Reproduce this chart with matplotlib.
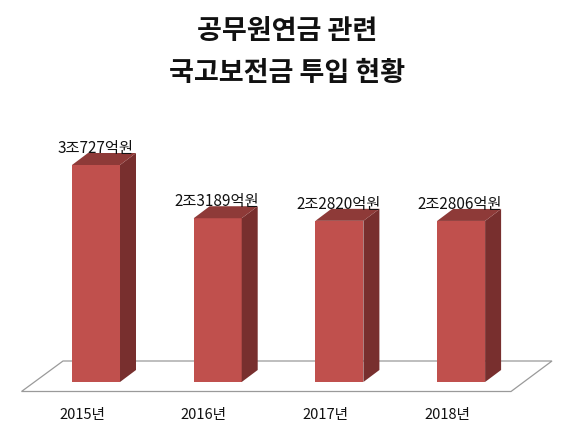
import matplotlib
matplotlib.use("Agg")
import matplotlib.pyplot as plt
from matplotlib.patches import Polygon

plt.rcParams['font.family'] = ['Noto Sans CJK KR', 'DejaVu Sans']

# ---- data ----
years = ["2015년", "2016년", "2017년", "2018년"]
values = [30727, 23189, 22820, 22806]          # 억원
value_labels = ["3조727억원", "2조3189억원", "2조2820억원", "2조2806억원"]
title_lines = ["공무원연금 관련", "국고보전금 투입 현황"]

# ---- geometry (pixels) ----
W, H = 571, 431
fig = plt.figure(figsize=(W / 100, H / 100), dpi=100)
ax = fig.add_axes([0, 0, 1, 1])
ax.set_axis_off()

base_px = 383.0          # pixel row (from top) of value 0
top_px_max = 166.0       # pixel row of front top for the first bar
scale = (base_px - top_px_max) / values[0]   # px per unit
x0_px, step_px = 96.0, 121.7                # front-face center of first bar, spacing

ax.set_xlim(-x0_px / step_px, (W - x0_px) / step_px)
ax.set_ylim(-(H - base_px) / scale, base_px / scale)

ux = 1.0 / step_px       # x units per pixel
uy = 1.0 / scale         # y units per pixel

def P(xpx, ypx_from_top):
    """pixel -> data (for decoration only)"""
    return ((xpx - x0_px) * ux, (base_px - ypx_from_top) * uy)

# floor
floor = Polygon([P(63, 362), P(552, 362), P(511, 392.5), P(21.5, 392.5)],
                closed=True, facecolor='white', edgecolor='#9a9a9a', lw=0.9, zorder=1)
ax.add_patch(floor)

front_c = '#C0504D'
side_c = '#782F2E'
top_c = '#8E3A38'
bw = 48 * ux
dx = 16 * ux
dy = 12 * uy

for i, v in enumerate(values):
    left = i - bw / 2
    right = i + bw / 2
    ax.bar(i, v, width=bw, color=front_c, edgecolor='none', zorder=3)
    side = Polygon([(right, 0), (right + dx, dy), (right + dx, v + dy), (right, v)],
                   closed=True, facecolor=side_c, edgecolor='none', zorder=3)
    top = Polygon([(left, v), (right, v), (right + dx, v + dy), (left + dx, v + dy)],
                  closed=True, facecolor=top_c, edgecolor='none', zorder=3)
    ax.add_patch(side)
    ax.add_patch(top)
    ax.text(i - 1 * ux, v + dy + 5.5 * uy, value_labels[i], ha='center', va='center',
            fontsize=11, color='#111111', zorder=5)
    ax.text(i - 14 * ux, -32 * uy, years[i], ha='center', va='center',
            fontsize=10.5, color='#111111', zorder=5)

# title
tx = (287 - x0_px) * ux
ax.text(tx, (base_px - 31) * uy, title_lines[0], ha='center', va='center',
        fontsize=19.5, fontweight='bold', color='#111111')
ax.text(tx, (base_px - 73) * uy, title_lines[1], ha='center', va='center',
        fontsize=19.5, fontweight='bold', color='#111111')

fig.savefig("out.png", dpi=100, facecolor='white')
